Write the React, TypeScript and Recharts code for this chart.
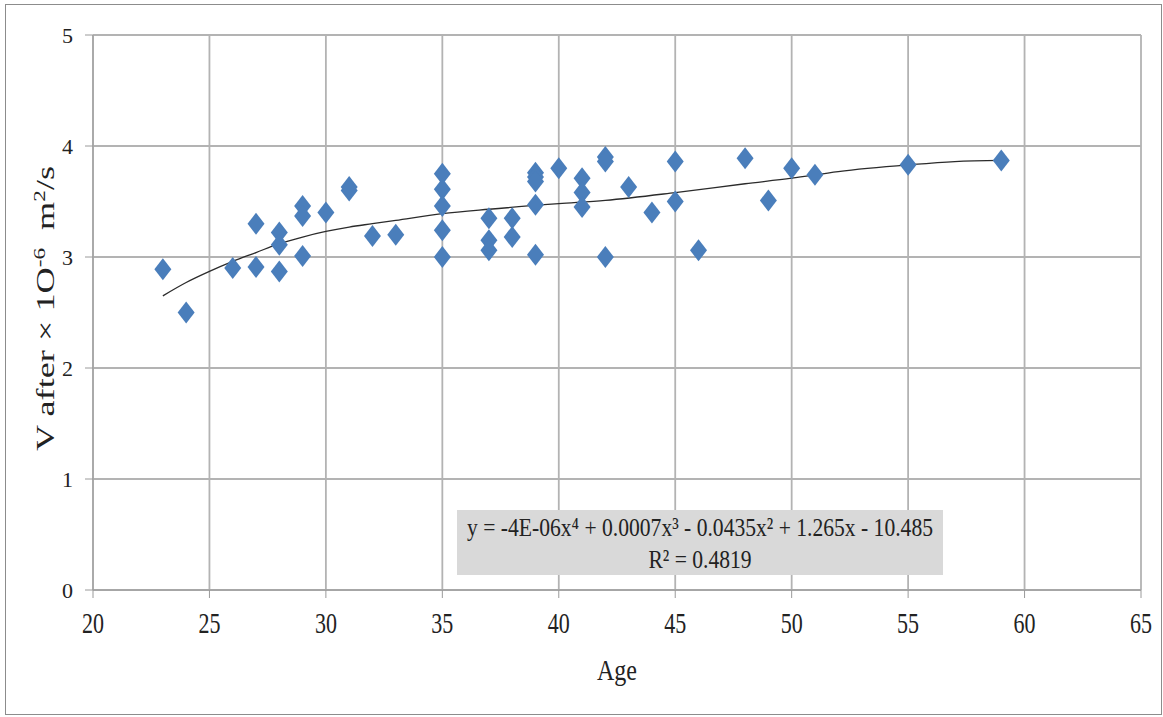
import React from 'react'
import { ComposedChart, Scatter, Line, XAxis, YAxis, CartesianGrid } from 'recharts'

// measured points (age, V after)
const ages = [
  23, 24, 26, 27, 27, 28, 28, 28, 29, 29, 29, 30, 31, 31, 32, 33,
  35, 35, 35, 35, 35, 37, 37, 37, 38, 38, 39, 39, 39, 39, 39,
  40, 41, 41, 41, 42, 42, 42, 43, 44, 45, 45, 46, 48, 49, 50, 51, 55, 59,
]
const vAfter = [
  2.89, 2.5, 2.9, 3.3, 2.91, 3.22, 3.11, 2.87, 3.46, 3.37, 3.01, 3.4, 3.63, 3.6, 3.19, 3.2,
  3.75, 3.61, 3.46, 3.24, 3.0, 3.35, 3.15, 3.06, 3.35, 3.18, 3.76, 3.72, 3.68, 3.47, 3.02,
  3.8, 3.71, 3.58, 3.45, 3.9, 3.86, 3.0, 3.63, 3.4, 3.86, 3.5, 3.06, 3.89, 3.51, 3.8, 3.74, 3.83, 3.87,
]

// trendline
const trendAges = [23, 24, 25, 26, 27, 28, 29, 30, 31, 32, 33, 35, 37, 40, 42, 45, 48, 50, 52, 55, 57, 59]
const trendValues = [2.65, 2.77, 2.87, 2.96, 3.04, 3.12, 3.18, 3.23, 3.27, 3.3, 3.33, 3.39, 3.43, 3.48, 3.51, 3.58, 3.66, 3.71, 3.77, 3.83, 3.86, 3.87]

const xTicks = [20, 25, 30, 35, 40, 45, 50, 55, 60, 65]
const yTicks = [0, 1, 2, 3, 4, 5]

const equation = 'y = -4E-06x⁴ + 0.0007x³ - 0.0435x² + 1.265x - 10.485'
const rSquared = 'R² = 0.4819'

const points = ages.map((a, i) => ({ x: a, y: vAfter[i] }))
const trend = trendAges.map((a, i) => ({ x: a, t: trendValues[i] }))

const FONT = '"Liberation Serif", "Times New Roman", serif'

const Diamond = (props: any) => {
  const { cx, cy } = props
  if (cx == null || cy == null) return null
  return (
    <polygon
      points={`${cx},${cy - 11} ${cx + 8.5},${cy} ${cx},${cy + 11} ${cx - 8.5},${cy}`}
      fill="#4a7ebb"
    />
  )
}

const XTick = (props: any) => {
  const { x, y, payload } = props
  return (
    <g transform={`translate(${x},${y + 33}) scale(1,1.3)`}>
      <text x={0} y={0} textAnchor="middle" fontFamily={FONT} fontSize={22} fill="#222">
        {payload.value}
      </text>
    </g>
  )
}

const YTick = (props: any) => {
  const { x, y, payload } = props
  return (
    <text x={x - 10} y={y} dy="0.35em" textAnchor="end" fontFamily={FONT} fontSize={22} fill="#222">
      {payload.value}
    </text>
  )
}

const AgeLabel = (props: any) => {
  const vb = props.viewBox
  return (
    <g transform={`translate(${vb.x + vb.width / 2},${vb.y + 90}) scale(1,1.25)`}>
      <text x={0} y={0} textAnchor="middle" fontFamily={FONT} fontSize={24} fill="#222">
        Age
      </text>
    </g>
  )
}

const VLabel = (props: any) => {
  const vb = props.viewBox
  return (
    <g transform={`translate(54,${vb.y + vb.height / 2 - 4}) rotate(-90) scale(1.45,1)`}>
      <text x={0} y={0} textAnchor="middle" fontFamily={FONT} fontSize={25} fill="#222">
        V after × 1O<tspan dy={-9} fontSize={16}>-6</tspan>
        <tspan dy={9}>{'\u00a0\u00a0m'}</tspan>
        <tspan dy={-9} fontSize={16}>2</tspan>
        <tspan dy={9}>/s</tspan>
      </text>
    </g>
  )
}

export default function App() {
  return (
    <div style={{ position: 'absolute', left: 0, top: 0, width: 1163, height: 717, background: '#fff' }}>
      <div
        style={{
          position: 'absolute',
          left: 5,
          top: 4,
          width: 1155,
          height: 709,
          border: '1px solid #8c8c8c',
        }}
      />
      <div style={{ position: 'absolute', left: 0, top: 0 }}>
        <ComposedChart width={1163} height={717} margin={{ top: 35, right: 22, left: 0, bottom: 47 }}>
          <CartesianGrid stroke="#b3b3b3" strokeWidth={1.8} />
          <XAxis
            type="number"
            dataKey="x"
            domain={[20, 65]}
            ticks={xTicks}
            height={80}
            tickSize={8}
            stroke="#9a9a9a"
            tick={<XTick />}
            label={<AgeLabel />}
            allowDataOverflow
          />
          <YAxis
            type="number"
            domain={[0, 5]}
            ticks={yTicks}
            width={93}
            tickSize={8}
            stroke="#9a9a9a"
            tick={<YTick />}
            label={<VLabel />}
          />
          <Line
            data={trend}
            dataKey="t"
            type="monotone"
            stroke="#2b2b2b"
            strokeWidth={1.3}
            dot={false}
            isAnimationActive={false}
          />
          <Scatter data={points} dataKey="y" shape={<Diamond />} isAnimationActive={false} />
        </ComposedChart>
      </div>
      <svg style={{ position: 'absolute', left: 0, top: 0 }} width={1163} height={717}>
        <rect x={457} y={510} width={486} height={65} fill="#d9d9d9" />
        <g transform="translate(700,536) scale(1.08,1.3)">
          <text x={0} y={0} textAnchor="middle" fontFamily={FONT} fontSize={20} fill="#222">
            {equation}
          </text>
        </g>
        <g transform="translate(700,568) scale(1.08,1.3)">
          <text x={0} y={0} textAnchor="middle" fontFamily={FONT} fontSize={20} fill="#222">
            {rSquared}
          </text>
        </g>
      </svg>
    </div>
  )
}
